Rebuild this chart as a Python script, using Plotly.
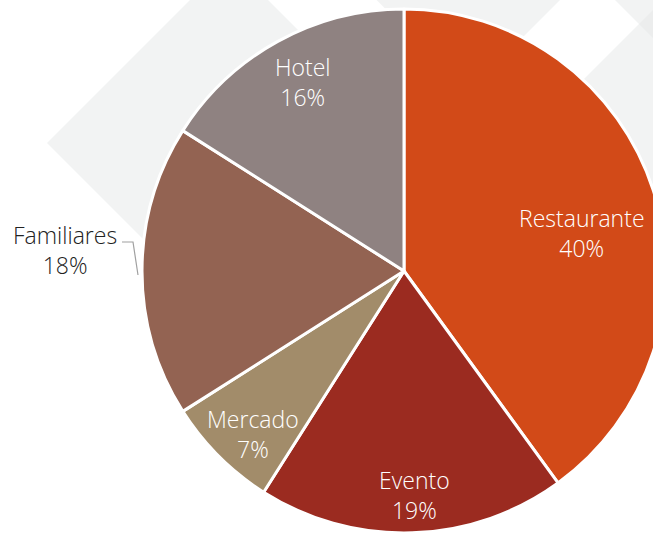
import plotly.graph_objects as go

labels = ["Restaurante", "Evento", "Mercado", "Familiares", "Hotel"]
values = [40, 19, 7, 18, 16]
colors = ["#d24a18", "#9b2b20", "#a28c6a", "#936352", "#8f8281"]
outside_label = "Familiares"

# label anchor positions in pixels (x, y)
label_pos = [(582, 233), (414, 495), (253, 434), (65, 250), (303, 82)]

W, H = 670, 534
FONT = "Open Sans"

fig = go.Figure()
fig.add_trace(go.Pie(
    labels=labels, values=values, sort=False, direction="clockwise", rotation=0,
    marker=dict(colors=colors, line=dict(color="white", width=3)),
    textinfo="none",
    domain=dict(x=[142 / W, 666 / W], y=[1 - 533 / H, 1 - 9 / H]),
    hoverinfo="label+percent", showlegend=False,
))

# invisible pixel axes for the background decoration and labels
fig.add_trace(go.Scatter(x=[0, W], y=[0, H], mode="markers", marker=dict(opacity=0),
                         hoverinfo="skip", showlegend=False))

bg = dict(type="path", xref="x", yref="y", layer="below", line=dict(width=0),
          fillcolor="#e6e8e8", opacity=0.5)
paths = [
    "M47,143 L229,-39 L411,143 L229,325 Z",
    "M327,-50 L610,-50 L468,92 Z",
    "M560,103 L723,-60 L780,-60 L780,323 Z",
    "M560,-55 L615,0 L780,165 L780,-55 Z",
]
for p in paths:
    fig.add_shape(path=p, **bg)

# leader line for outside label
fig.add_shape(type="path", xref="x", yref="y", path="M122,242 L133,242 L138,275",
              line=dict(color="#a0a0a0", width=1.2))

for lab, val, (px, py) in zip(labels, values, label_pos):
    col = "#222222" if lab == outside_label else "white"
    fig.add_annotation(x=px, y=py, xref="x", yref="y", showarrow=False,
                       text=f"{lab}<br>{val}%", align="center",
                       font=dict(family=FONT, size=23, color=col, weight=300))

fig.update_xaxes(visible=False, range=[0, W], fixedrange=True)
fig.update_yaxes(visible=False, range=[H, 0], fixedrange=True)
fig.update_layout(width=W, height=H, margin=dict(l=0, r=0, t=0, b=0),
                  paper_bgcolor="white", plot_bgcolor="rgba(0,0,0,0)")
fig.write_html("out.html", config={"displayModeBar": False}, post_script=(
    "document.documentElement.style.overflow='hidden';"
    "document.body.style.margin='0';document.body.style.overflow='hidden';"))
